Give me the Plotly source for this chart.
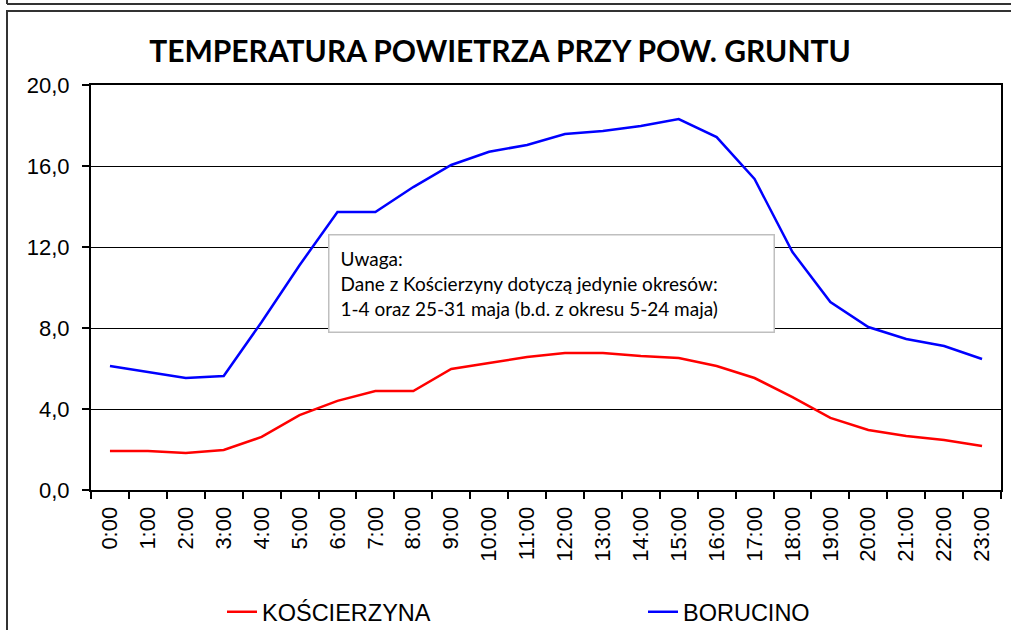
import plotly.graph_objects as go

hours = [f"{h}:00" for h in range(24)]
koscierzyna = [1.93, 1.93, 1.83, 1.98, 2.62, 3.70, 4.40, 4.89, 4.89, 5.98, 6.27, 6.57,
               6.77, 6.77, 6.62, 6.52, 6.12, 5.53, 4.59, 3.56, 2.96, 2.67, 2.47, 2.17]
borucino = [6.12, 5.83, 5.53, 5.63, 8.30, 11.10, 13.73, 13.73, 14.96, 16.05, 16.70, 17.04,
            17.58, 17.73, 17.98, 18.32, 17.43, 15.36, 11.75, 9.28, 8.05, 7.46, 7.11, 6.47]
y_ticks = [0, 4, 8, 12, 16, 20]
y_ticktext = ["0,0", "4,0", "8,0", "12,0", "16,0", "20,0"]

title_text = "TEMPERATURA POWIETRZA PRZY POW. GRUNTU"
note_text = ("Uwaga:<br>Dane z Kościerzyny dotyczą jedynie okresów:<br>"
             "1-4 oraz 25-31 maja (b.d. z okresu 5-24 maja)")

W, H = 1011, 630
L, R, T, B = 91, 10, 85, 140
pw, ph = W - L - R, H - T - B

def px(x):
    return (x - L) / pw

def py(y):
    return 1 - (y - T) / ph

fig = go.Figure()
fig.add_trace(go.Scatter(x=hours, y=koscierzyna, mode="lines", name="KOŚCIERZYNA",
                         line=dict(color="#FF0000", width=2.5)))
fig.add_trace(go.Scatter(x=hours, y=borucino, mode="lines", name="BORUCINO",
                         line=dict(color="#0000FF", width=2.5)))

fig.update_layout(
    width=W, height=H,
    margin=dict(l=L, r=R, t=T, b=B, autoexpand=False),
    paper_bgcolor="white", plot_bgcolor="white",
    font=dict(family="Liberation Sans, Arial, sans-serif", size=22, color="black"),
    title=dict(text=f"<b>{title_text}</b>", x=500 / W, y=1 - 51 / H,
               xanchor="center", yanchor="middle",
               font=dict(family="Lato, Calibri, sans-serif", size=30, color="black")),
    showlegend=True,
    legend=dict(orientation="h", xref="container", yref="container",
                x=222 / W, y=1 - 612 / H, xanchor="left", yanchor="middle",
                entrywidth=376, entrywidthmode="pixels",
                font=dict(size=23.5, family="Liberation Sans, Arial, sans-serif"),
                bgcolor="rgba(0,0,0,0)"),
    xaxis=dict(type="category", showgrid=False, showline=True, linecolor="black",
               linewidth=2, mirror=True, ticks="outside", tickson="boundaries",
               ticklen=7, tickcolor="black", tickwidth=1.5, tickangle=-90,
               tickfont=dict(size=22), range=[-0.5, 23.5], automargin=False,
               ticklabelstandoff=6),
    yaxis=dict(range=[0, 20], tickvals=y_ticks, ticktext=y_ticktext,
               showgrid=True, gridcolor="black", gridwidth=1.2,
               showline=True, linecolor="black", linewidth=2, mirror=True,
               ticks="outside", ticklen=7, tickcolor="black", tickwidth=1.5,
               tickfont=dict(size=22), zeroline=False, automargin=False,
               ticklabelstandoff=8),
)

fig.add_annotation(
    xref="paper", yref="paper", x=px(328), y=py(234), xanchor="left", yanchor="top",
    text=note_text, align="left", showarrow=False,
    font=dict(family="Lato, Calibri, sans-serif", size=19, color="black"),
    bgcolor="white", bordercolor="#BFBFBF", borderwidth=1.5, borderpad=11,
    width=422, height=74,
)

# outer chart frame
fig.add_shape(type="rect", xref="paper", yref="paper",
              x0=px(7), x1=px(1040), y0=py(660), y1=py(11),
              line=dict(color="#333333", width=2), layer="below")
# frame of the chart above (partly visible)
fig.add_shape(type="line", xref="paper", yref="paper",
              x0=px(7), x1=px(1040), y0=py(4), y1=py(4),
              line=dict(color="#333333", width=2))
fig.add_shape(type="line", xref="paper", yref="paper",
              x0=px(7), x1=px(7), y0=py(-5), y1=py(4),
              line=dict(color="#333333", width=2))

fig.write_html("out.html", config={"displayModeBar": False},
               post_script="document.body.style.margin='0';")
